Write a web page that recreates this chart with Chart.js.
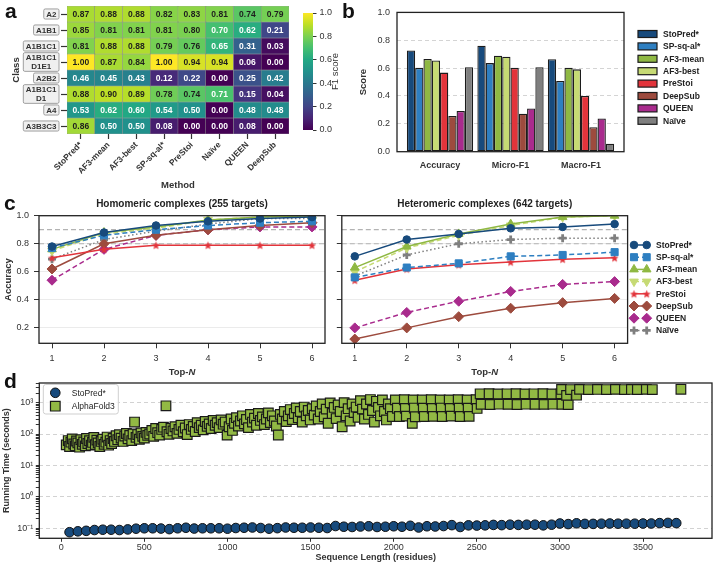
<!DOCTYPE html>
<html>
<head>
<meta charset="utf-8">
<script src="https://cdn.jsdelivr.net/npm/chart.js@4.4.1/dist/chart.umd.min.js"></script>
<style>
  body { margin: 0; background: #fff; }
  #fig { position: relative; width: 720px; height: 574px; overflow: hidden; background: #fff; }
  #fig canvas { position: absolute; }
  .tag { position: absolute; font: bold 21px 'Liberation Sans', Arial, sans-serif; line-height: 21px; color: #111; }
</style>
</head>
<body>
<div id="fig">
  <canvas id="heatChart" width="296" height="192" style="left:0;top:0"></canvas>
  <canvas id="cbarChart" width="50" height="145" style="left:296px;top:0"></canvas>
  <canvas id="barChart" width="375" height="180" style="left:345px;top:0"></canvas>
  <canvas id="homoChart" width="335" height="195" style="left:0;top:190px"></canvas>
  <canvas id="heteroChart" width="385" height="195" style="left:335px;top:190px"></canvas>
  <canvas id="timeChart" width="720" height="199" style="left:0;top:375px"></canvas>
  <div class="tag" style="left:5px;top:0">a</div>
  <div class="tag" style="left:342px;top:0">b</div>
  <div class="tag" style="left:4px;top:192px">c</div>
  <div class="tag" style="left:4px;top:370px">d</div>
</div>
<script>
// ---- panel a: per-class F1 heatmap ----
const heatMethods = ['StoPred*', 'AF3-mean', 'AF3-best', 'SP-sq-al*', 'PreStoi', 'Naïve', 'QUEEN', 'DeepSub'];
const heatClasses = [['A2'], ['A1B1'], ['A1B1C1'], ['A1B1C1', 'D1E1'], ['A2B2'], ['A1B1C1', 'D1'], ['A4'], ['A3B3C3']];
const heatF1 = [
  [0.87, 0.88, 0.88, 0.82, 0.83, 0.81, 0.74, 0.79],
  [0.85, 0.81, 0.81, 0.81, 0.80, 0.70, 0.62, 0.21],
  [0.81, 0.88, 0.88, 0.79, 0.76, 0.65, 0.31, 0.03],
  [1.00, 0.87, 0.84, 1.00, 0.94, 0.94, 0.06, 0.00],
  [0.46, 0.45, 0.43, 0.12, 0.22, 0.00, 0.25, 0.42],
  [0.88, 0.90, 0.89, 0.78, 0.74, 0.71, 0.15, 0.04],
  [0.53, 0.62, 0.60, 0.54, 0.50, 0.00, 0.48, 0.48],
  [0.86, 0.50, 0.50, 0.08, 0.00, 0.00, 0.08, 0.00]
];
const cbarTicks = [0, 0.2, 0.4, 0.6, 0.8, 1.0];

// ---- panel b: overall scores ----
const metricNames = ['Accuracy', 'Micro-F1', 'Macro-F1'];
const scoreStoPred = [0.727, 0.761, 0.664];
const scoreSPsqal = [0.602, 0.636, 0.507];
const scoreAF3mean = [0.666, 0.689, 0.602];
const scoreAF3best = [0.655, 0.682, 0.591];
const scorePreStoi = [0.568, 0.602, 0.400];
const scoreDeepSub = [0.257, 0.273, 0.175];
const scoreQUEEN = [0.293, 0.311, 0.239];
const scoreNaive = [0.607, 0.607, 0.057];
const scoreTicks = [0, 0.2, 0.4, 0.6, 0.8, 1.0];

// ---- panel c: top-N accuracy ----
const topN = [1, 2, 3, 4, 5, 6];
const accTicks = [0.2, 0.4, 0.6, 0.8, 1.0];
const accRefLines = [0.8, 0.9];
const homoStoPred = [0.78, 0.88, 0.93, 0.96, 0.98, 0.99];
const homoSPsqal = [0.77, 0.86, 0.90, 0.93, 0.95, 0.96];
const homoAF3mean = [0.76, 0.88, 0.92, 0.97, 0.99, 1.00];
const homoAF3best = [0.75, 0.87, 0.91, 0.97, 0.99, 1.00];
const homoPreStoi = [0.70, 0.76, 0.79, 0.79, 0.79, 0.79];
const homoDeepSub = [0.62, 0.80, 0.86, 0.90, 0.93, 0.95];
const homoQUEEN = [0.54, 0.76, 0.86, 0.90, 0.92, 0.92];
const homoNaive = [0.69, 0.83, 0.89, 0.94, 0.98, 0.98];
const heteroStoPred = [0.71, 0.83, 0.87, 0.91, 0.92, 0.94];
const heteroSPsqal = [0.56, 0.63, 0.66, 0.71, 0.72, 0.74];
const heteroAF3mean = [0.63, 0.78, 0.87, 0.94, 0.99, 1.00];
const heteroAF3best = [0.60, 0.77, 0.86, 0.93, 0.99, 1.00];
const heteroPreStoi = [0.54, 0.62, 0.65, 0.67, 0.69, 0.70];
const heteroDeepSub = [0.12, 0.20, 0.28, 0.34, 0.38, 0.41];
const heteroQUEEN = [0.20, 0.31, 0.39, 0.46, 0.51, 0.53];
const heteroNaive = [0.57, 0.72, 0.80, 0.83, 0.84, 0.84];

// ---- panel d: running time vs sequence length ----
const lengthTicks = [0, 500, 1000, 1500, 2000, 2500, 3000, 3500];
const stoLength = [50, 100, 150, 200, 250, 300, 350, 400, 450, 500, 550, 600, 650, 700, 750, 800, 850, 900, 950, 1000,
  1050, 1100, 1150, 1200, 1250, 1300, 1350, 1400, 1450, 1500, 1550, 1600, 1650, 1700, 1750, 1800, 1850, 1900, 1950, 2000,
  2050, 2100, 2150, 2200, 2250, 2300, 2350, 2400, 2450, 2500, 2550, 2600, 2650, 2700, 2750, 2800, 2850, 2900, 2950, 3000,
  3050, 3100, 3150, 3200, 3250, 3300, 3350, 3400, 3450, 3500, 3550, 3600, 3650, 3700];
const stoTime = [0.075, 0.080, 0.083, 0.088, 0.090, 0.090, 0.088, 0.092, 0.097, 0.100, 0.100, 0.098, 0.094, 0.100, 0.104, 0.098, 0.100, 0.100, 0.100, 0.097,
  0.102, 0.104, 0.106, 0.102, 0.097, 0.101, 0.106, 0.104, 0.104, 0.106, 0.104, 0.102, 0.118, 0.112, 0.110, 0.114, 0.116, 0.110, 0.112, 0.116,
  0.112, 0.120, 0.106, 0.116, 0.114, 0.118, 0.126, 0.110, 0.124, 0.122, 0.124, 0.128, 0.126, 0.130, 0.128, 0.130, 0.130, 0.124, 0.130, 0.142,
  0.136, 0.144, 0.138, 0.138, 0.140, 0.142, 0.140, 0.140, 0.140, 0.142, 0.142, 0.146, 0.148, 0.146];
const af3Runs = [
  [30, 45], [42, 62], [50, 40], [58, 55], [66, 70], [75, 48], [84, 42], [92, 60], [100, 52], [110, 38], [118, 66], [126, 47],
  [135, 56], [145, 42], [152, 72], [160, 50], [170, 61], [180, 44], [188, 54], [196, 78], [205, 46], [214, 64], [222, 52], [232, 40],
  [240, 58], [250, 68], [258, 47], [268, 55], [276, 80], [285, 44], [294, 62], [303, 50], [312, 72], [320, 58], [330, 88],
  [340, 66], [350, 95], [360, 74], [372, 58], [382, 86], [392, 104], [402, 70], [412, 90], [424, 62], [432, 100], [441, 240],
  [450, 78], [460, 96], [470, 68], [480, 108], [490, 84], [500, 74], [510, 112], [520, 90],
  [532, 100], [545, 130], [556, 84], [568, 150], [580, 110], [592, 92], [604, 140], [615, 165], [630, 790], [636, 118], [648, 98],
  [660, 150], [672, 125], [684, 170], [696, 105], [708, 140], [720, 190], [734, 118], [746, 155], [758, 96],
  [770, 200], [782, 140], [794, 175], [806, 120], [818, 230], [830, 160], [842, 190], [854, 135], [866, 250], [878, 175], [890, 210],
  [902, 150], [914, 270], [926, 190], [938, 230], [950, 160], [962, 280], [974, 205], [986, 240], [998, 92], [1010, 170], [1022, 300], [1030, 130],
  [1042, 220], [1054, 330], [1066, 180], [1078, 260], [1090, 380], [1102, 210], [1114, 290], [1126, 160], [1138, 420], [1150, 240],
  [1162, 320], [1174, 190], [1186, 450], [1198, 270], [1210, 350], [1222, 200], [1234, 300], [1246, 470], [1258, 230], [1270, 380],
  [1282, 260], [1294, 180], [1306, 93], [1318, 420], [1330, 300],
  [1342, 520], [1354, 250], [1366, 380], [1378, 600], [1390, 290], [1402, 450], [1414, 680], [1426, 330], [1438, 520], [1450, 240],
  [1462, 720], [1474, 380], [1486, 560], [1498, 280], [1510, 640],
  [1522, 400], [1534, 780], [1546, 300], [1558, 520], [1570, 900], [1582, 350], [1594, 620], [1606, 220], [1618, 980], [1630, 450],
  [1642, 700], [1654, 310], [1666, 840], [1678, 520], [1690, 170], [1702, 1000], [1714, 380], [1726, 640], [1738, 260], [1750, 900],
  [1762, 480], [1774, 720], [1786, 340],
  [1800, 1150], [1812, 620], [1824, 300], [1836, 900], [1848, 420], [1860, 1250], [1872, 560], [1884, 240], [1896, 1100], [1908, 700],
  [1920, 380], [1932, 1220], [1944, 520], [1956, 280], [1968, 900], [1980, 640], [1992, 360], [2010, 1220], [2022, 660], [2034, 360],
  [2064, 1230], [2070, 650], [2076, 370], [2112, 218], [2118, 1220], [2124, 670], [2130, 355], [2172, 1210], [2178, 660], [2184, 360],
  [2226, 1230], [2232, 650], [2238, 365], [2280, 1220], [2286, 670], [2292, 360], [2334, 1215], [2340, 655], [2346, 370],
  [2388, 1230], [2394, 660], [2400, 360], [2442, 1220], [2448, 665], [2454, 365], [2496, 1240], [2502, 650],
  [2520, 1900], [2526, 880], [2574, 1920], [2580, 870], [2628, 1880], [2634, 890], [2682, 1900], [2688, 880], [2736, 1910], [2742, 870],
  [2790, 1890], [2796, 890], [2844, 1900], [2850, 880], [2898, 1920], [2904, 875], [2952, 1880], [2958, 890], [3006, 1900], [3012, 880], [3050, 870],
  [3010, 2620], [3040, 1700], [3064, 2600], [3100, 1720], [3118, 2640], [3172, 2600], [3226, 2620], [3280, 2600], [3334, 2630],
  [3388, 2600], [3430, 2620], [3466, 2610], [3520, 2640], [3556, 2600], [3728, 2650]
];

const FONT = "'Liberation Sans', Arial, Helvetica, sans-serif";
Chart.defaults.font.family = FONT;
Chart.defaults.font.size = 9;
Chart.defaults.color = '#333';
Chart.defaults.animation = false;
Chart.defaults.responsive = false;
Chart.defaults.plugins.legend.display = false;
Chart.defaults.plugins.tooltip.enabled = false;

const METHOD_COLOR = {
  'StoPred*': '#174a7c', 'SP-sq-al*': '#2e7fc1', 'AF3-mean': '#8fb843', 'AF3-best': '#c6da74',
  'PreStoi': '#e2343b', 'DeepSub': '#9d4b3e', 'QUEEN': '#a92b8d', 'Naïve': '#7f7f7f'
};

// viridis colour map
const VIRIDIS = ['#440154', '#482475', '#414487', '#355f8d', '#2a788e', '#21918c', '#22a884', '#44bf70', '#7ad151', '#bddf26', '#fde725'];
function hexRgb(h) { return [1, 3, 5].map(i => parseInt(h.slice(i, i + 2), 16)); }
function viridis(t) {
  t = Math.max(0, Math.min(1, t)) * 10;
  const i = Math.min(9, Math.floor(t)), f = t - i;
  const a = hexRgb(VIRIDIS[i]), b = hexRgb(VIRIDIS[i + 1]);
  return `rgb(${a.map((v, k) => Math.round(v + (b[k] - v) * f)).join(',')})`;
}

function roundRect(ctx, x, y, w, h, r) {
  ctx.beginPath();
  ctx.moveTo(x + r, y);
  ctx.arcTo(x + w, y, x + w, y + h, r);
  ctx.arcTo(x + w, y + h, x, y + h, r);
  ctx.arcTo(x, y + h, x, y, r);
  ctx.arcTo(x, y, x + w, y, r);
  ctx.closePath();
}

// filled star marker (matplotlib '*')
function starImage(color, r) {
  const c = document.createElement('canvas');
  const s = Math.ceil(r * 2 + 2);
  c.width = c.height = s;
  const g = c.getContext('2d');
  g.translate(s / 2, s / 2 + 0.5);
  g.beginPath();
  for (let k = 0; k < 10; k++) {
    const rad = k % 2 ? r * 0.45 : r;
    const a = -Math.PI / 2 + k * Math.PI / 5;
    g.lineTo(rad * Math.cos(a), rad * Math.sin(a));
  }
  g.closePath();
  g.fillStyle = color;
  g.fill();
  return c;
}

function drawMarker(ctx, ds, x, y) {
  const st = ds.pointStyle, r = ds.pointRadius;
  if (st instanceof HTMLCanvasElement) {
    ctx.drawImage(st, x - st.width / 2, y - st.height / 2);
    return;
  }
  ctx.save();
  ctx.translate(x, y);
  ctx.setLineDash([]);
  let rad = (ds.pointRotation || 0) * Math.PI / 180;
  ctx.beginPath();
  if (st === 'circle') ctx.arc(0, 0, r, 0, Math.PI * 2);
  else if (st === 'rect') { const h = r * Math.SQRT1_2; ctx.rect(-h, -h, 2 * h, 2 * h); }
  else if (st === 'rectRot') { ctx.moveTo(0, -r); ctx.lineTo(r, 0); ctx.lineTo(0, r); ctx.lineTo(-r, 0); ctx.closePath(); }
  else if (st === 'triangle') {
    for (let k = 0; k < 3; k++) {
      ctx.lineTo(Math.sin(rad) * r, -Math.cos(rad) * r);
      rad += Math.PI * 2 / 3;
    }
    ctx.closePath();
  } else if (st === 'cross') { ctx.moveTo(0, -r); ctx.lineTo(0, r); ctx.moveTo(-r, 0); ctx.lineTo(r, 0); }
  ctx.fillStyle = ds.pointBackgroundColor;
  ctx.strokeStyle = ds.pointBorderColor;
  ctx.lineWidth = ds.pointBorderWidth;
  if (st !== 'cross') ctx.fill();
  ctx.stroke();
  ctx.restore();
}

const fixedTicks = values => scale => { scale.ticks = values.map(v => ({ value: v })); };

// frame round the plot area
const framePlugin = {
  id: 'frame',
  afterDatasetsDraw(chart) {
    const { ctx, chartArea: a } = chart;
    ctx.save();
    ctx.strokeStyle = '#222';
    ctx.lineWidth = 1.3;
    ctx.strokeRect(a.left, a.top, a.width, a.height);
    ctx.restore();
  }
};

// ---- a ----
const heatTextPlugin = {
  id: 'heatText',
  afterDatasetsDraw(chart) {
    const ctx = chart.ctx;
    ctx.save();
    ctx.font = `bold 8.5px ${FONT}`;
    ctx.textAlign = 'center';
    ctx.textBaseline = 'middle';
    heatF1.forEach((row, r) => {
      chart.getDatasetMeta(r).data.forEach((bar, c) => {
        const p = bar.getProps(['x', 'y', 'base'], true);
        ctx.fillStyle = row[c] >= 0.74 ? '#1e1e1e' : '#ffffff';
        ctx.fillText(row[c].toFixed(2), p.x, (p.y + p.base) / 2 + 0.5);
      });
    });
    ctx.restore();
  }
};

const rowLabelPlugin = {
  id: 'rowLabels',
  afterDraw(chart) {
    const ctx = chart.ctx, y = chart.scales.y;
    const right = y.right - 8;
    ctx.save();
    ctx.font = `bold 8px ${FONT}`;
    ctx.textAlign = 'center';
    ctx.textBaseline = 'middle';
    heatClasses.forEach((lines, r) => {
      const cy = y.getPixelForValue(r);
      const w = Math.max(...lines.map(l => ctx.measureText(l).width)) + 5;
      const lh = 8.6;
      const h = lines.length * lh + 1.5;
      roundRect(ctx, right - w, cy - h / 2, w, h, 1.5);
      ctx.fillStyle = '#f0f0f0';
      ctx.fill();
      ctx.strokeStyle = '#8a8a8a';
      ctx.lineWidth = 0.8;
      ctx.stroke();
      ctx.fillStyle = '#333';
      lines.forEach((l, k) => ctx.fillText(l, right - w / 2, cy + (k - (lines.length - 1) / 2) * lh + 0.5));
    });
    ctx.restore();
  }
};

new Chart(document.getElementById('heatChart'), {
  type: 'bar',
  data: {
    labels: heatMethods,
    datasets: heatF1.map((row, r) => ({
      data: row.map(() => [r - 0.5, r + 0.5]),
      backgroundColor: row.map(viridis),
      borderColor: '#8c8c8c',
      borderWidth: 0.5,
      borderSkipped: false,
      grouped: false,
      categoryPercentage: 1,
      barPercentage: 1
    }))
  },
  options: {
    layout: { padding: { top: 6, right: 7, left: 0, bottom: 0 } },
    scales: {
      x: {
        ticks: { font: { weight: 'bold', size: 8.5 }, minRotation: 45, maxRotation: 45, padding: 1, color: '#333' },
        grid: { drawOnChartArea: false, offset: false, tickLength: 5, tickColor: '#333', tickWidth: 1.2 },
        border: { display: false },
        title: { display: true, text: 'Method', color: '#333', font: { weight: 'bold', size: 9.5 }, padding: { top: 0, bottom: 0.6 } },
        afterFit: s => { s.height = 58; }
      },
      y: {
        type: 'linear', reverse: true, min: -0.5, max: 7.5,
        afterBuildTicks: fixedTicks(heatClasses.map((c, i) => i)),
        ticks: { display: false },
        grid: { drawOnChartArea: false, tickLength: 6, tickColor: '#333', tickWidth: 1.2 },
        border: { display: false },
        title: { display: true, text: 'Class', color: '#333', font: { weight: 'bold', size: 9.5 }, padding: { top: 10.3, bottom: 0 } },
        afterFit: s => { s.width = 67; }
      }
    }
  },
  plugins: [heatTextPlugin, rowLabelPlugin]
});

// colour bar
const cbarPlugin = {
  id: 'cbar',
  beforeDatasetsDraw(chart) {
    const { ctx, chartArea: a } = chart;
    const g = ctx.createLinearGradient(0, a.bottom, 0, a.top);
    VIRIDIS.forEach((c, i) => g.addColorStop(i / (VIRIDIS.length - 1), c));
    ctx.save();
    ctx.fillStyle = g;
    ctx.fillRect(a.left, a.top, a.width, a.height);
    ctx.translate(a.right + 22, (a.top + a.bottom) / 2);
    ctx.rotate(-Math.PI / 2);
    ctx.fillStyle = '#333';
    ctx.font = `9.5px ${FONT}`;
    ctx.textAlign = 'center';
    ctx.textBaseline = 'middle';
    ctx.fillText('F1 score', 0, 0);
    ctx.restore();
  }
};

new Chart(document.getElementById('cbarChart'), {
  type: 'scatter',
  data: { datasets: [] },
  options: {
    layout: { padding: { left: 7, top: 13, bottom: 15, right: 0 } },
    scales: {
      x: { display: false, min: 0, max: 1 },
      y: {
        position: 'right', min: 0, max: 1,
        afterBuildTicks: fixedTicks(cbarTicks),
        ticks: { padding: 3, callback: v => v.toFixed(1) },
        grid: { drawOnChartArea: false, tickLength: 3.5, tickColor: '#333' },
        border: { display: false },
        afterFit: s => { s.width = 33; }
      }
    }
  },
  plugins: [cbarPlugin]
});

// ---- b ----
const barSeries = [
  ['StoPred*', scoreStoPred], ['SP-sq-al*', scoreSPsqal], ['AF3-mean', scoreAF3mean], ['AF3-best', scoreAF3best],
  ['PreStoi', scorePreStoi], ['DeepSub', scoreDeepSub], ['QUEEN', scoreQUEEN], ['Naïve', scoreNaive]
];

const boxLegendPlugin = {
  id: 'boxLegend',
  afterDraw(chart, args, opts) {
    const ctx = chart.ctx;
    ctx.save();
    ctx.font = `bold 8.5px ${FONT}`;
    ctx.textBaseline = 'middle';
    chart.data.datasets.forEach((ds, i) => {
      const y = opts.y + i * opts.dy;
      ctx.fillStyle = ds.backgroundColor;
      ctx.fillRect(opts.x, y - 3.5, 19, 7);
      ctx.strokeStyle = '#1c1c1c';
      ctx.lineWidth = 1.2;
      ctx.strokeRect(opts.x, y - 3.5, 19, 7);
      ctx.fillStyle = '#222';
      ctx.fillText(ds.label, opts.x + 25, y + 0.5);
    });
    ctx.restore();
  }
};

new Chart(document.getElementById('barChart'), {
  type: 'bar',
  data: {
    datasets: barSeries.map(([name, vals]) => ({
      label: name,
      data: vals.map((v, i) => ({ x: i, y: v })),
      backgroundColor: METHOD_COLOR[name],
      borderColor: '#1c1c1c',
      borderWidth: 1.3,
      borderSkipped: false,
      categoryPercentage: 0.94,
      barPercentage: 1
    }))
  },
  options: {
    layout: { padding: { top: 5, right: 96, left: 0, bottom: 0 } },
    scales: {
      x: {
        type: 'linear', offset: false, min: -0.61, max: 2.61,
        afterBuildTicks: fixedTicks(metricNames.map((m, i) => i)),
        ticks: { callback: v => metricNames[v], font: { weight: 'bold', size: 9 }, padding: 8, color: '#333' },
        grid: { display: false, drawTicks: false },
        border: { display: false },
        afterFit: s => { s.height = 28.3; }
      },
      y: {
        min: 0, max: 1,
        afterBuildTicks: fixedTicks(scoreTicks),
        ticks: { callback: v => v.toFixed(1), padding: 7 },
        grid: { color: c => (c.tick && c.tick.value > 0 && c.tick.value < 1) ? '#d4d4d4' : 'rgba(0,0,0,0)', drawTicks: false },
        border: { display: false, dash: [4, 3] },
        title: { display: true, text: 'Score', color: '#333', font: { weight: 'bold', size: 9.5 }, padding: { top: 12.3, bottom: 0 } },
        afterFit: s => { s.width = 52; }
      }
    },
    plugins: { boxLegend: { x: 293, y: 34, dy: 12.4 } }
  },
  plugins: [framePlugin, boxLegendPlugin]
});

// ---- c ----
const starMarker = starImage(METHOD_COLOR['PreStoi'], 4.2);
const LINE_STYLE = {
  'StoPred*': { pointStyle: 'circle', pointRadius: 3.8, borderDash: [] },
  'SP-sq-al*': { pointStyle: 'rect', pointRadius: 5, borderDash: [5, 3] },
  'AF3-mean': { pointStyle: 'triangle', pointRadius: 5, borderDash: [] },
  'AF3-best': { pointStyle: 'triangle', pointRotation: 180, pointRadius: 5, borderDash: [5, 3] },
  'PreStoi': { pointStyle: starMarker, pointRadius: 4, borderDash: [] },
  'DeepSub': { pointStyle: 'rectRot', pointRadius: 5, borderDash: [] },
  'QUEEN': { pointStyle: 'rectRot', pointRadius: 5, borderDash: [5, 3] },
  'Naïve': { pointStyle: 'cross', pointRadius: 4, pointBorderWidth: 2.8, borderDash: [1.5, 2.5] }
};

const accTextPlugin = {
  id: 'accText',
  beforeDatasetsDraw(chart) {
    const { ctx, chartArea: a, scales: { y } } = chart;
    ctx.save();
    ctx.strokeStyle = '#b3b3b3';
    ctx.lineWidth = 1.2;
    ctx.setLineDash([5, 3]);
    accRefLines.forEach(v => {
      const py = y.getPixelForValue(v);
      ctx.beginPath();
      ctx.moveTo(a.left, py);
      ctx.lineTo(a.right, py);
      ctx.stroke();
    });
    ctx.restore();
  },
  afterDraw(chart, args, opts) {
    const { ctx, chartArea: a } = chart;
    const cx = (a.left + a.right) / 2;
    ctx.save();
    ctx.fillStyle = '#222';
    ctx.textBaseline = 'middle';
    ctx.textAlign = 'center';
    ctx.font = `bold 10px ${FONT}`;
    ctx.fillText(opts.title, cx, a.top - 11.7);
    const ty = a.bottom + 29;
    ctx.font = `bold 9.5px ${FONT}`;
    const w1 = ctx.measureText('Top-').width;
    ctx.font = `italic bold 9.5px ${FONT}`;
    const w2 = ctx.measureText('N').width;
    const x0 = cx - (w1 + w2) / 2;
    ctx.textAlign = 'left';
    ctx.fillStyle = '#333';
    ctx.font = `bold 9.5px ${FONT}`;
    ctx.fillText('Top-', x0, ty);
    ctx.font = `italic bold 9.5px ${FONT}`;
    ctx.fillText('N', x0 + w1, ty);
    ctx.restore();
  }
};

const lineLegendPlugin = {
  id: 'lineLegend',
  afterDraw(chart, args, opts) {
    const ctx = chart.ctx;
    ctx.save();
    ctx.font = `bold 8.5px ${FONT}`;
    ctx.textBaseline = 'middle';
    chart.data.datasets.forEach((ds, i) => {
      const y = opts.y + i * opts.dy;
      ctx.strokeStyle = ds.borderColor;
      ctx.lineWidth = ds.borderWidth;
      ctx.setLineDash(ds.borderDash);
      ctx.beginPath();
      ctx.moveTo(opts.x, y);
      ctx.lineTo(opts.x + 12.7, y);
      ctx.stroke();
      ctx.setLineDash([]);
      drawMarker(ctx, ds, opts.x, y);
      drawMarker(ctx, ds, opts.x + 12.7, y);
      ctx.fillStyle = '#222';
      ctx.fillText(ds.label, opts.x + 22, y + 0.5);
    });
    ctx.restore();
  }
};

function accuracyChart(id, title, series, isLeft) {
  return new Chart(document.getElementById(id), {
    type: 'line',
    data: {
      datasets: series.map(([name, vals]) => {
        const col = METHOD_COLOR[name];
        return Object.assign({
          label: name,
          data: vals.map((v, i) => ({ x: topN[i], y: v })),
          borderColor: col, backgroundColor: col,
          pointBackgroundColor: col, pointBorderColor: col,
          borderWidth: 1.5, pointBorderWidth: 1
        }, LINE_STYLE[name]);
      })
    },
    options: {
      layout: { padding: { top: 25.7, right: isLeft ? 10 : 92.4, left: 0, bottom: 0 } },
      scales: {
        x: {
          type: 'linear', min: 0.75, max: 6.25,
          afterBuildTicks: fixedTicks(topN),
          ticks: { padding: 4.5, callback: v => String(v) },
          grid: { drawOnChartArea: false, tickLength: 5, tickColor: '#333' },
          border: { display: false },
          afterFit: s => { s.height = 41.7; }
        },
        y: {
          min: 0.09, max: 1.0,
          afterBuildTicks: fixedTicks(accTicks),
          ticks: { display: isLeft, padding: 5, callback: v => v.toFixed(1) },
          grid: { color: '#ebebeb', tickLength: 5, tickColor: '#333' },
          border: { display: false },
          title: { display: isLeft, text: 'Accuracy', color: '#333', font: { weight: 'bold', size: 9.5 }, padding: { top: 2.3, bottom: 0 } },
          afterFit: s => { s.width = isLeft ? 39 : 5.6; }
        }
      },
      plugins: {
        accText: { title },
        lineLegend: { x: 299, y: 55, dy: 12.2 }
      }
    },
    plugins: isLeft ? [framePlugin, accTextPlugin] : [framePlugin, accTextPlugin, lineLegendPlugin]
  });
}

accuracyChart('homoChart', 'Homomeric complexes (255 targets)', [
  ['StoPred*', homoStoPred], ['SP-sq-al*', homoSPsqal], ['AF3-mean', homoAF3mean], ['AF3-best', homoAF3best],
  ['PreStoi', homoPreStoi], ['DeepSub', homoDeepSub], ['QUEEN', homoQUEEN], ['Naïve', homoNaive]
], true);
accuracyChart('heteroChart', 'Heteromeric complexes (642 targets)', [
  ['StoPred*', heteroStoPred], ['SP-sq-al*', heteroSPsqal], ['AF3-mean', heteroAF3mean], ['AF3-best', heteroAF3best],
  ['PreStoi', heteroPreStoi], ['DeepSub', heteroDeepSub], ['QUEEN', heteroQUEEN], ['Naïve', heteroNaive]
], false);

// ---- d ----
const SUP = { '-': '⁻', '0': '⁰', '1': '¹', '2': '²', '3': '³', '4': '⁴' };
const logExp = v => Math.round(Math.log10(v));
const isDecade = v => Math.abs(Math.log10(v) - logExp(v)) < 1e-6;

const timeLegendPlugin = {
  id: 'timeLegend',
  afterDraw(chart, args, opts) {
    const ctx = chart.ctx;
    ctx.save();
    roundRect(ctx, opts.x, opts.y, 75, 29.5, 2.5);
    ctx.fillStyle = 'rgba(255,255,255,0.85)';
    ctx.fill();
    ctx.strokeStyle = '#cfcfcf';
    ctx.lineWidth = 1;
    ctx.stroke();
    ctx.font = `8.5px ${FONT}`;
    ctx.textBaseline = 'middle';
    chart.data.datasets.forEach((ds, i) => {
      const y = opts.y + 8.3 + i * 13.4;
      drawMarker(ctx, ds, opts.x + 12, y);
      ctx.fillStyle = '#222';
      ctx.fillText(ds.label, opts.x + 28.5, y + 0.5);
    });
    ctx.restore();
  }
};

new Chart(document.getElementById('timeChart'), {
  type: 'scatter',
  data: {
    datasets: [
      {
        label: 'StoPred*',
        data: stoLength.map((x, i) => ({ x, y: stoTime[i] })),
        pointStyle: 'circle', pointRadius: 4.8,
        pointBackgroundColor: '#174a7c', pointBorderColor: '#111', pointBorderWidth: 1
      },
      {
        label: 'AlphaFold3',
        data: af3Runs.map(([x, y]) => ({ x, y })),
        pointStyle: 'rect', pointRadius: 6.8,
        pointBackgroundColor: '#92b944', pointBorderColor: '#1a1a1a', pointBorderWidth: 1.2
      }
    ]
  },
  options: {
    layout: { padding: { top: 7.7, right: 3.3, left: 0, bottom: 0 } },
    scales: {
      x: {
        type: 'linear', min: -132, max: 3915,
        afterBuildTicks: fixedTicks(lengthTicks),
        ticks: { padding: 0, callback: v => String(v) },
        grid: { drawOnChartArea: false, tickLength: 3.5, tickColor: '#333' },
        border: { display: false },
        title: { display: true, text: 'Sequence Length (residues)', color: '#333', font: { weight: 'bold', size: 9 }, padding: { top: 0, bottom: 11 } },
        afterFit: s => { s.height = 35.7; }
      },
      y: {
        type: 'logarithmic', min: 0.048, max: 4200,
        afterBuildTicks: s => {
          s.ticks = s.ticks.filter(t => {
            const m = t.value / Math.pow(10, Math.floor(Math.log10(t.value) + 1e-9));
            return Math.abs(m - Math.round(m)) < 1e-6;
          });
        },
        ticks: {
          padding: 2.5, autoSkip: false,
          callback: v => isDecade(v) ? '10' + String(logExp(v)).split('').map(ch => SUP[ch]).join('') : ''
        },
        grid: { color: c => (c.tick && isDecade(c.tick.value)) ? '#d2d2d2' : 'rgba(0,0,0,0)', tickLength: 3.5, tickColor: '#333' },
        border: { display: false, dash: [4, 3] },
        title: { display: true, text: 'Running Time (seconds)', color: '#333', font: { weight: 'bold', size: 9 }, padding: { top: 1.5, bottom: 0 } },
        afterFit: s => { s.width = 39.3; }
      }
    },
    plugins: { timeLegend: { x: 43.3, y: 9.5 } }
  },
  plugins: [framePlugin, timeLegendPlugin]
});
</script>
</body>
</html>
